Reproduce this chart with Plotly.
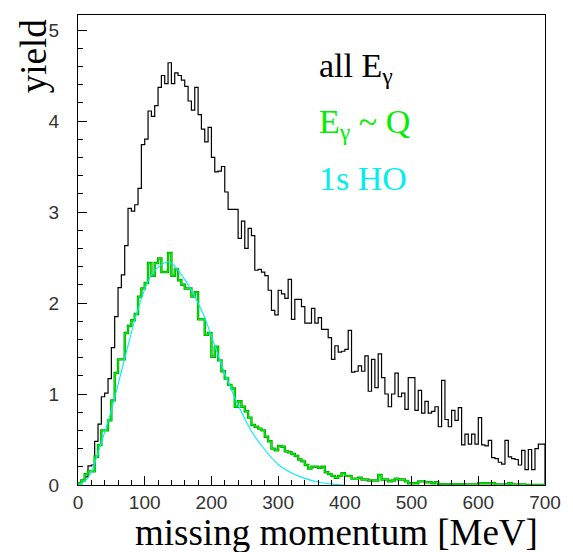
import numpy as np
import plotly.graph_objects as go

BIN_WIDTH = 5
X_MAX = 700

all_egamma = [
    0.02, 0.05, 0.09, 0.21, 0.22, 0.48, 0.67, 0.97, 1.01, 1.17,
    1.51, 1.85, 2.17, 2.31, 2.63, 3.04, 3.01, 3.08, 3.26, 3.74,
    3.80, 4.11, 4.05, 4.17, 4.37, 4.50, 4.41, 4.64, 4.41, 4.53,
    4.50, 4.45, 4.38, 4.22, 4.12, 4.37, 4.07, 3.91, 3.77, 3.93,
    3.60, 3.44, 3.45, 3.50, 3.22, 3.03, 3.03, 3.03, 2.71, 2.90,
    2.60, 2.82, 2.74, 2.36, 2.37, 2.34, 2.30, 2.14, 1.92, 1.87,
    2.14, 2.10, 2.05, 2.26, 1.82, 2.04, 2.04, 1.96, 1.78, 1.78,
    1.94, 1.78, 1.84, 1.71, 1.71, 1.62, 1.38, 1.53, 1.46, 1.47,
    1.49, 1.70, 1.24, 1.25, 1.31, 1.25, 1.42, 1.03, 1.38, 1.07,
    1.44, 1.18, 1.00, 0.86, 1.00, 1.23, 0.97, 1.01, 0.83, 1.18,
    1.18, 0.82, 1.04, 0.79, 0.92, 0.79, 0.81, 0.86, 0.64, 1.15,
    0.72, 0.64, 0.82, 0.71, 0.85, 0.44, 0.56, 0.45, 0.56, 0.45,
    0.74, 0.44, 0.43, 0.49, 0.30, 0.29, 0.25, 0.23, 0.49, 0.31,
    0.29, 0.28, 0.22, 0.38, 0.17, 0.39, 0.17, 0.40, 0.45, 0.45,
]

egamma_q = [
    0.02, 0.05, 0.12, 0.15, 0.15, 0.31, 0.44, 0.60, 0.60, 0.71,
    0.93, 1.23, 1.38, 1.38, 1.67, 1.75, 1.81, 1.88, 2.07, 2.16,
    2.22, 2.44, 2.30, 2.44, 2.49, 2.34, 2.34, 2.55, 2.30, 2.37,
    2.25, 2.20, 2.16, 2.16, 2.07, 2.12, 1.82, 1.82, 1.65, 1.67,
    1.41, 1.52, 1.37, 1.25, 1.17, 1.10, 1.06, 0.86, 0.92, 0.86,
    0.81, 0.74, 0.66, 0.64, 0.62, 0.60, 0.53, 0.48, 0.40, 0.38,
    0.43, 0.42, 0.37, 0.36, 0.34, 0.32, 0.28, 0.26, 0.22, 0.18,
    0.20, 0.20, 0.19, 0.20, 0.14, 0.12, 0.10, 0.08, 0.10, 0.13,
    0.10, 0.10, 0.07, 0.07, 0.08, 0.06, 0.06, 0.05, 0.05, 0.05,
    0.11, 0.06, 0.06, 0.04, 0.05, 0.07, 0.06, 0.06, 0.04, 0.02,
    0.02, 0.02, 0.04, 0.04, 0.03, 0.03, 0.02, 0.03, 0.01, 0.01,
    0.01, 0.01, 0.01, 0.01, 0.01, 0.01, 0.005, 0.005, 0.005, 0.005,
    0.02, 0.02, 0.02, 0.02, 0.02, 0.005, 0.005, 0.005, 0.005, 0.02,
    0.005, 0.005, 0.005, 0.005, 0.0, 0.0, 0.0, 0.0, 0.0, 0.0,
]

ho_x = [0, 10, 20, 28, 48, 70, 92, 112, 136, 157, 187, 202, 222, 240,
        261, 283, 301, 321, 341, 361, 381, 400]
ho_y = [0.0, 0.04, 0.14, 0.31, 0.77, 1.39, 1.98, 2.33, 2.45, 2.29, 1.89,
        1.59, 1.19, 0.88, 0.58, 0.36, 0.22, 0.13, 0.07, 0.03, 0.01, 0.0]


def hist_xy(values):
    edges = np.arange(len(values)) * BIN_WIDTH
    xs = [0.0] + list(edges) + [X_MAX, X_MAX]
    ys = [0.0] + list(values) + [values[-1], 0.0]
    return xs, ys


fig = go.Figure()

bx, by = hist_xy(all_egamma)
fig.add_trace(go.Scatter(x=bx, y=by, mode="lines", line=dict(color="black", width=1.2, shape="hv"),
                         showlegend=False, hoverinfo="skip"))

gx, gy = hist_xy(egamma_q)
fig.add_trace(go.Scatter(x=gx, y=gy, mode="lines", line=dict(color="#00a000", width=2.4, shape="hv"),
                         showlegend=False, hoverinfo="skip"))
fig.add_trace(go.Scatter(x=gx, y=gy, mode="lines", line=dict(color="#00ff00", width=1.0, shape="hv"),
                         showlegend=False, hoverinfo="skip"))

fig.add_trace(go.Scatter(x=ho_x, y=ho_y, mode="lines", line=dict(color="#00f0f0", width=1.1, shape="spline", smoothing=1.0),
                         showlegend=False, hoverinfo="skip"))

tickfont = dict(family="Liberation Sans", size=19, color="#333333")

fig.update_xaxes(range=[0, X_MAX], dtick=100, tick0=0, ticks="inside", ticklen=9, tickcolor="black",
                 showline=True, mirror=True, linecolor="black", linewidth=1, showgrid=False, zeroline=False,
                 tickfont=tickfont, ticklabelstandoff=0,
                 minor=dict(dtick=20, ticks="inside", ticklen=5, tickcolor="black", showgrid=False))
fig.update_yaxes(range=[0, 5.165], dtick=1, tick0=0, ticks="inside", ticklen=9, tickcolor="black",
                 showline=True, mirror=True, linecolor="black", linewidth=1, showgrid=False, zeroline=False,
                 tickfont=tickfont, ticklabelstandoff=14,
                 minor=dict(dtick=0.2, ticks="inside", ticklen=5, tickcolor="black", showgrid=False))

serif = "Liberation Serif"
W, H = 573, 552
L, R, T, B = 78, 25, 15, 67
pw, ph = W - L - R, H - T - B


def px(xp):
    return (xp - L) / pw


def py(yp):
    return (H - B - yp) / ph


annotations = [
    dict(text="missing momentum [MeV]", x=px(338), y=py(532), xref="paper", yref="paper",
         xanchor="center", yanchor="middle", showarrow=False, font=dict(family=serif, size=37, color="black")),
    dict(text="yield", x=px(34), y=py(56), xref="paper", yref="paper", textangle=-90,
         xanchor="center", yanchor="middle", showarrow=False, font=dict(family=serif, size=37, color="black")),
    dict(text="all E<sub>γ</sub>", x=px(319), y=py(68), xref="paper", yref="paper",
         xanchor="left", yanchor="middle", showarrow=False, font=dict(family=serif, size=34, color="black")),
    dict(text="E<sub>γ</sub> ~ Q", x=px(319), y=py(124), xref="paper", yref="paper",
         xanchor="left", yanchor="middle", showarrow=False, font=dict(family=serif, size=34, color="#00ee00")),
    dict(text="1s HO", x=px(319), y=py(178), xref="paper", yref="paper",
         xanchor="left", yanchor="middle", showarrow=False, font=dict(family=serif, size=34, color="#00eeee")),
]

fig.update_layout(width=W, height=H, margin=dict(l=L, r=R, t=T, b=B),
                  paper_bgcolor="white", plot_bgcolor="white", annotations=annotations)

fig.write_html("out.html")
